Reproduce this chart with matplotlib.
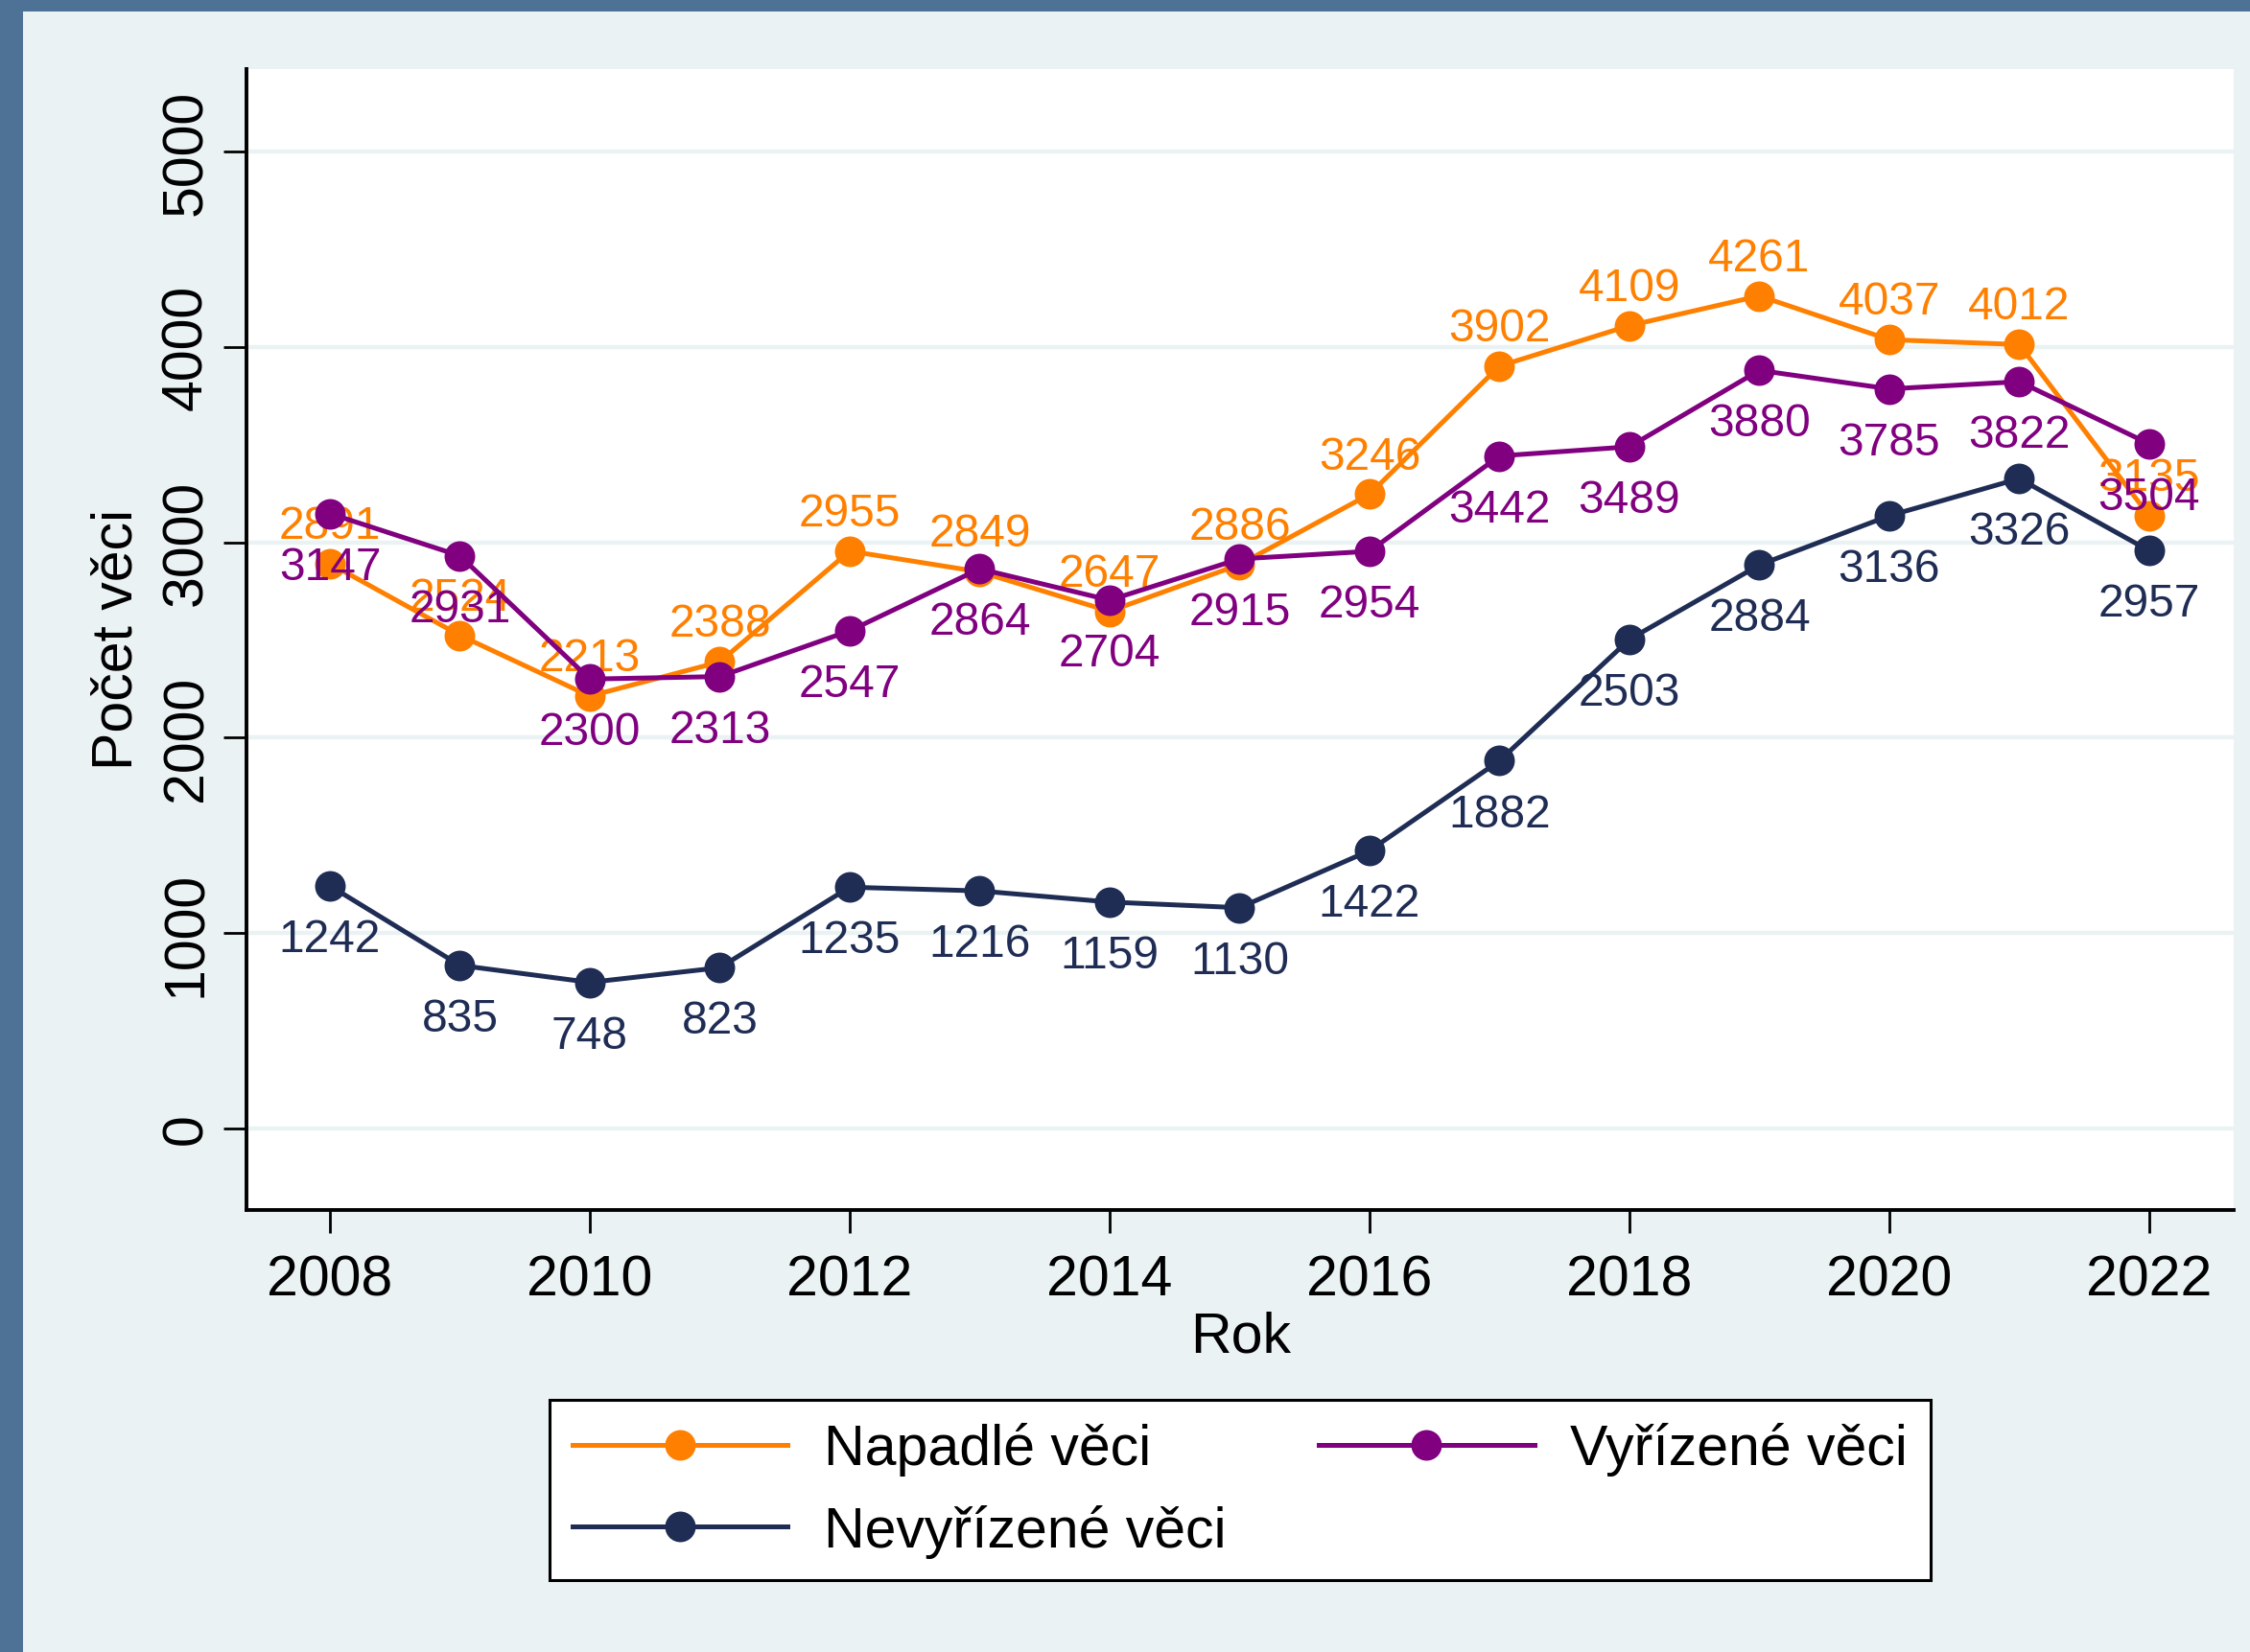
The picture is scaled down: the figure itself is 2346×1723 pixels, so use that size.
import matplotlib
matplotlib.use("Agg")
import matplotlib.pyplot as plt
from matplotlib.patches import Rectangle

plt.rcParams['font.family'] = ['Liberation Sans', 'DejaVu Sans']

years = [2008, 2009, 2010, 2011, 2012, 2013, 2014, 2015, 2016, 2017, 2018, 2019, 2020, 2021, 2022]
napadle = [2891, 2524, 2213, 2388, 2955, 2849, 2647, 2886, 3246, 3902, 4109, 4261, 4037, 4012, 3135]
vyrizene = [3147, 2931, 2300, 2313, 2547, 2864, 2704, 2915, 2954, 3442, 3489, 3880, 3785, 3822, 3504]
nevyrizene = [1242, 835, 748, 823, 1235, 1216, 1159, 1130, 1422, 1882, 2503, 2884, 3136, 3326, 2957]
series_names = ["Napadlé věci", "Vyřízené věci", "Nevyřízené věci"]
xticks = [2008, 2010, 2012, 2014, 2016, 2018, 2020, 2022]
yticks = [0, 1000, 2000, 3000, 4000, 5000]

W, H = 2346, 1724
BG = "#EAF2F3"
BORDER = "#4E7296"
C_OR = "#FF8000"
C_PU = "#800080"
C_NV = "#1F2D55"
FS = 42.5

fig = plt.figure(figsize=(W / 100, H / 100), dpi=100)
fig.patch.set_facecolor(BG)
# outer border strips (top and left)
fig.add_artist(Rectangle((0, 1 - 13 / H), 1, 13 / H, transform=fig.transFigure,
                         facecolor=BORDER, edgecolor='none', zorder=0))
fig.add_artist(Rectangle((0, 0), 24 / W, 1, transform=fig.transFigure,
                         facecolor=BORDER, edgecolor='none', zorder=0))

left, right, top, bottom = 257, 2329, 73, 1263
ax = fig.add_axes([left / W, 1 - bottom / H, (right - left) / W, (bottom - top) / H])
ax.set_facecolor("white")
ax.set_xlim(2007.358, 2022.65)
ax.set_ylim(-417, 5422)

for s in ['top', 'right']:
    ax.spines[s].set_visible(False)
for s in ['left', 'bottom']:
    ax.spines[s].set_linewidth(2.8)
    ax.spines[s].set_color('black')

ax.set_yticks(yticks)
ax.set_yticklabels([str(v) for v in yticks], rotation=90, va='center', fontsize=FS)
ax.set_xticks(xticks)
ax.set_xticklabels([str(v) for v in xticks], fontsize=FS)
ax.tick_params(axis='x', length=17, width=2, pad=16)
ax.tick_params(axis='y', length=17, width=2, pad=8)
ax.grid(axis='y', color=BG, linewidth=3.2, zorder=0)
ax.set_axisbelow(True)

specs = [
    (napadle, C_OR, series_names[0], 'above', 3),
    (vyrizene, C_PU, series_names[1], 'below', 4),
    (nevyrizene, C_NV, series_names[2], 'below', 5),
]
handles = []
for vals, col, name, pos, z in specs:
    h, = ax.plot(years, vals, color=col, lw=3.6, marker='o', markersize=23,
                 markeredgewidth=0, label=name, zorder=z)
    handles.append(h)
    for x, y in zip(years, vals):
        off = 19.4 if pos == 'above' else -49
        ax.annotate(str(y), (x, y), xytext=(0, off), textcoords='offset points',
                    ha='center', va='baseline', fontsize=34.5, color=col,
                    zorder=z + 0.5)

fig.text(122 / W, 1 - 667 / H, "Počet věci", rotation=90, ha='center',
         va='center', fontsize=FS)
fig.text(1294 / W, 1 - 1411 / H, "Rok", ha='center', va='baseline', fontsize=FS)

cx = (565 + 2021) / 2 / W
cy = 1 - (1459 + 1651) / 2 / H
# column-wise fill: col 1 = Napadlé, Nevyřízené; col 2 = Vyřízené
leg = fig.legend(handles=[handles[0], handles[2], handles[1]],
                 labels=[series_names[0], series_names[2], series_names[1]],
                 loc='center', bbox_to_anchor=(cx, cy),
                 ncol=2, fontsize=FS, frameon=True, fancybox=False,
                 handlelength=3.8, handletextpad=0.64, columnspacing=1.64,
                 borderpad=0.40, labelspacing=0.50, borderaxespad=0)
leg.get_frame().set_edgecolor('black')
leg.get_frame().set_linewidth(2.2)
leg.get_frame().set_facecolor('white')
leg.get_frame().set_alpha(1)

fig.savefig("out.png", dpi=100, facecolor=BG)
